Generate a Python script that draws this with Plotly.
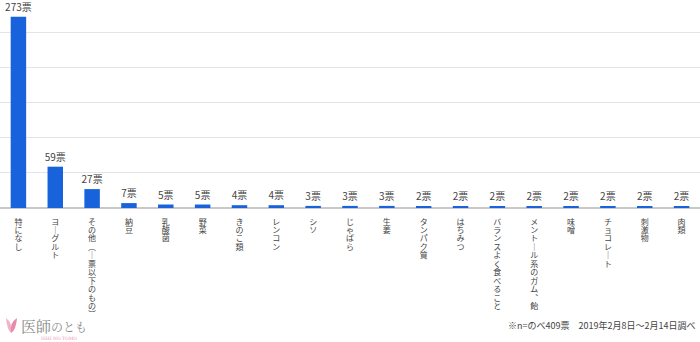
import plotly.graph_objects as go

categories = ["特になし", "ヨーグルト", "その他（一票以下のもの）", "納豆", "乳酸菌", "野菜",
              "きのこ類", "レンコン", "シソ", "じゃばら", "生姜", "タンパク質", "はちみつ",
              "バランスよく食べること", "メントール系のガム、飴", "味噌", "チョコレート", "刺激物", "肉類"]
votes = [273, 59, 27, 7, 5, 5, 4, 4, 3, 3, 3, 2, 2, 2, 2, 2, 2, 2, 2]
value_labels = [f"{v}票" for v in votes]
footnote = "※n=のべ409票　2019年2月8日～2月14日調べ"
logo_big = "医師"
logo_small = "のとも"
logo_sub = "ISHI NO TOMO"

vmap = {"ー": "｜", "（": "︵", "）": "︶", "、": "︑", "一": "｜"}


def vertical(s):
    return "<br>".join(f'<span style="font-size:8px">{vmap.get(c, c)}</span>' for c in s)


tick_text = [vertical(c) for c in categories]

FONT = "Noto Sans CJK JP, Noto Sans, sans-serif"

fig = go.Figure(go.Bar(
    x=categories, y=votes, text=value_labels, textposition="outside",
    textfont=dict(size=10, color="#444", family=FONT),
    constraintext="none",
    marker=dict(color="#1862dc", line=dict(width=0)),
    cliponaxis=False, width=0.42,
))

fig.update_layout(
    width=700, height=342,
    margin=dict(l=0, r=0, t=0, b=134),
    plot_bgcolor="white", paper_bgcolor="white",
    showlegend=False,
    font=dict(family=FONT, color="#444"),
    xaxis=dict(tickmode="array", tickvals=categories, ticktext=tick_text,
               tickangle=0, tickfont=dict(size=6.5, color="#444", family=FONT),
               ticklabelstandoff=9,
               showline=False, ticks="", fixedrange=True),
    yaxis=dict(range=[0, 297], dtick=50, showticklabels=False,
               gridcolor="#e4e4e4", gridwidth=1,
               zeroline=True, zerolinecolor="#c8c8c8", zerolinewidth=1.5),
    annotations=[
        dict(text=footnote, xref="paper", yref="paper", x=0.995, y=-0.567,
             xanchor="right", yanchor="middle", showarrow=False,
             font=dict(size=9, color="#444", family=FONT)),
        dict(text=f'{logo_big}<span style="font-size:12px">{logo_small}</span>',
             xref="paper", yref="paper", x=0.027, y=-0.565,
             xanchor="left", yanchor="middle", showarrow=False,
             font=dict(size=15, color="#8a8a8a", family="Noto Serif CJK JP, Noto Sans CJK JP, serif")),
        dict(text=logo_sub, xref="paper", yref="paper", x=0.055, y=-0.625,
             xanchor="left", yanchor="middle", showarrow=False,
             font=dict(size=4.5, color="#e89ab0", family="DejaVu Serif")),
    ],
    shapes=[
        dict(type="path", xref="paper", yref="paper",
             path="M 0.0086 -0.529 Q 0.0100 -0.585 0.0157 -0.601 Q 0.0190 -0.555 0.0086 -0.529 Z",
             fillcolor="#f3b3c7", line=dict(width=0)),
        dict(type="path", xref="paper", yref="paper",
             path="M 0.0243 -0.529 Q 0.0230 -0.585 0.0160 -0.601 Q 0.0125 -0.555 0.0243 -0.529 Z",
             fillcolor="#e88aa8", line=dict(width=0)),
    ],
)

fig.write_html("out.html")
